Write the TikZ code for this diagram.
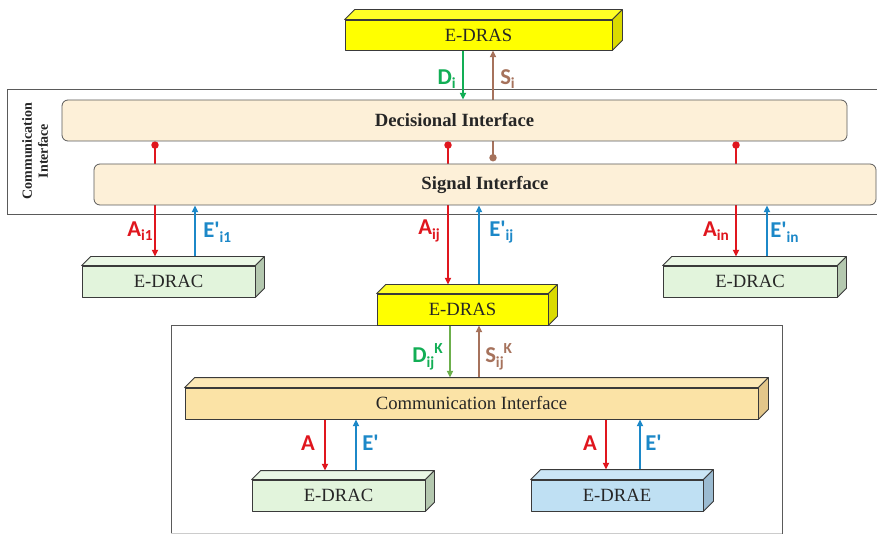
\documentclass[tikz,border=0pt]{standalone}
\usepackage{fontspec}
\setmainfont{Liberation Serif}
\newfontfamily\labfont[Ligatures=TeXOff]{Carlito}
\usetikzlibrary{arrows.meta,calc}

\definecolor{edge}{HTML}{3A3A3A}
\definecolor{frame}{HTML}{5A5A5A}
\definecolor{ifill}{HTML}{FDF0D8}
\definecolor{yfront}{HTML}{FFFF00}
\definecolor{ytop}{HTML}{FFFF26}
\definecolor{yside}{HTML}{DADA00}
\definecolor{gfront}{HTML}{E2F4DC}
\definecolor{gtop}{HTML}{EAF7E5}
\definecolor{gside}{HTML}{B4C8AF}
\definecolor{bfront}{HTML}{BFE0F3}
\definecolor{btop}{HTML}{CBE6F6}
\definecolor{bside}{HTML}{9BBBD1}
\definecolor{ofront}{HTML}{FBE3A6}
\definecolor{otop}{HTML}{FCE8B6}
\definecolor{oside}{HTML}{E3C68A}
\definecolor{cred}{HTML}{E0161E}
\definecolor{cblue}{HTML}{1C88C8}
\definecolor{cgreen}{HTML}{12AE55}
\definecolor{cgreenb}{HTML}{6CAF4C}
\definecolor{cbrown}{HTML}{A6725C}

\pgfdeclarelayer{canvas}
\pgfdeclarelayer{back}
\pgfsetlayers{canvas,back,main}

\def\px{0.75pt}

% side and top faces of a box node: node, depth (px), top colour, side colour
\newcommand\boxfaces[4]{%
  \filldraw[facestroke, fill=#3] (#1.north west) -- ++(#2,-#2)
     -- ($(#1.north east)+(#2,-#2)$) -- (#1.north east) -- cycle;
  \filldraw[facestroke, fill=#4] (#1.north east) -- ++(#2,-#2)
     -- ($(#1.south east)+(#2,-#2)$) -- (#1.south east) -- cycle;
  \coordinate (#1top) at ($(#1.north)+(0,-#2)$);
}

% signal label: main letter, subscript, superscript
\newcommand\sig[3]{{\labfont\bfseries\fontsize{17}{17}\selectfont
  #1\raisebox{-0.42ex}{\fontsize{11.5}{11.5}\selectfont #2}%
  \raisebox{0.8ex}{\fontsize{11.5}{11.5}\selectfont #3}}}

\tikzset{
  facestroke/.style={draw=edge, line width=0.6pt, line join=round},
  cube/.style={facestroke, inner sep=0pt, font=\fontsize{14}{14}\selectfont,
    text=black!85, minimum height=31*\px},
  iface/.style={draw=frame, line width=0.6pt, fill=ifill, rounded corners=4.5pt,
    inner sep=0pt, minimum height=41*\px,
    font=\bfseries\fontsize{14}{14}\selectfont, text=black!85},
  outer/.style={draw=frame, line width=0.6pt},
  tipT/.style={-{Triangle[length=5pt,width=4.5pt]}},
  redc/.style={draw=cred, line width=1.4pt, {Circle[length=5.5pt]}-{Triangle[length=5pt,width=4.5pt]}},
  redp/.style={draw=cred, line width=1.4pt, tipT},
  bluec/.style={draw=cblue, line width=1.4pt, tipT},
  greenc/.style={draw=cgreen, line width=1.3pt, tipT},
  greenl/.style={draw=cgreenb, line width=1.3pt, tipT},
  brownc/.style={draw=cbrown, line width=1.3pt, tipT},
  lab/.style={inner sep=0pt},
}

\begin{document}
\begin{tikzpicture}[x=0.75pt,y=-0.75pt]
\begin{pgfonlayer}{canvas}
  \fill[white] (0,0) rectangle (877,534);
\end{pgfonlayer}
\useasboundingbox (0,0) rectangle (877,534);

% x positions of the vertical connectors
\coordinate (xAL) at (155,0);  \coordinate (xEL) at (195,0);
\coordinate (xAM) at (448,0);  \coordinate (xEM) at (479,0);
\coordinate (xBM) at (493,0);
\coordinate (xAR) at (736,0);  \coordinate (xER) at (767,0);
\coordinate (xDt) at (463,0);  \coordinate (xSt) at (493,0);
\coordinate (xDl) at (450,0);  \coordinate (xSl) at (479,0);
\coordinate (xa1) at (325,0);  \coordinate (xe1) at (356,0);
\coordinate (xa2) at (606,0);  \coordinate (xe2) at (640,0);

% enclosing frames
\begin{pgfonlayer}{back}
  \draw[outer] (7,89) rectangle (882,214);
  \draw[outer] (171,540) -- (171,325) -- (782,325) -- (782,540);
  \draw[black!20, line width=0.6pt] (171,533.5) -- (782,533.5);
\end{pgfonlayer}

\node[rotate=90, align=center, font=\bfseries\fontsize{10.5}{12}\selectfont, text=black!85]
  (citext) at (35,151) {Communication\\Interface};

% interface bars
\node[iface, minimum width=785*\px] (dec) at (454.5,120.5) {Decisional Interface};
\node[iface, minimum width=782*\px] (sig) at (485,184.5) {Signal Interface};

% boxes
\node[cube, fill=yfront, minimum width=267*\px, minimum height=30*\px] (dras1) at (478.5,35) {E-DRAS};
\boxfaces{dras1}{10}{ytop}{yside}

\node[cube, fill=gfront, minimum width=173*\px] (drac1) at (168.5,281.5) {E-DRAC};
\boxfaces{drac1}{9}{gtop}{gside}

\node[cube, fill=gfront, minimum width=174*\px] (drac2) at (750,281.5) {E-DRAC};
\boxfaces{drac2}{9}{gtop}{gside}

\node[cube, fill=yfront, minimum width=171*\px] (dras2) at (462.5,309.5) {E-DRAS};
\boxfaces{dras2}{9}{ytop}{yside}

\node[cube, fill=ofront, minimum width=573*\px] (com) at (471.5,403.5) {Communication Interface};
\boxfaces{com}{10}{otop}{oside}

\node[cube, fill=gfront, minimum width=173*\px] (drac3) at (338.5,495.5) {E-DRAC};
\boxfaces{drac3}{9}{gtop}{gside}

\node[cube, fill=bfront, minimum width=172*\px] (drae) at (617,495.5) {E-DRAE};
\boxfaces{drae}{10}{btop}{bside}

% connectors
\begin{pgfonlayer}{back}
  \draw[greenc] (dras1.south -| xDt) -- (dec.north -| xDt);
  \draw[brownc] (dec.north -| xSt) -- (dras1.south -| xSt);

  \draw[redc]  (dec.south -| xAL) -- (drac1top -| xAL);
  \draw[bluec] (drac1top -| xEL) -- (sig.south -| xEL);

  \draw[redc]  (dec.south -| xAM) -- (dras2top -| xAM);
  \draw[bluec] (dras2top -| xEM) -- (sig.south -| xEM);
  \draw[draw=cbrown, line width=1.3pt, -{Circle[length=5.5pt]}] (dec.south -| xBM) -- ++(0,20);

  \draw[redc]  (dec.south -| xAR) -- (drac2top -| xAR);
  \draw[bluec] (drac2top -| xER) -- (sig.south -| xER);

  \draw[greenl] (dras2.south -| xDl) -- (comtop -| xDl);
  \draw[brownc] (comtop -| xSl) -- (dras2.south -| xSl);

  \draw[redp]  (com.south -| xa1) -- (drac3top -| xa1);
  \draw[bluec] (drac3top -| xe1) -- (com.south -| xe1);
  \draw[redp]  (com.south -| xa2) -- (draetop -| xa2);
  \draw[bluec] (draetop -| xe2) -- (com.south -| xe2);
\end{pgfonlayer}

% signal labels
\node[lab, anchor=east, text=cgreen] (lDi) at (456,79) {\sig{D}{i}{}};
\node[lab, anchor=west, text=cbrown] (lSi) at (500,79) {\sig{S}{i}{}};

\node[lab, anchor=east, text=cred]  (lAi1) at (153,231) {\sig{A}{i1}{}};
\node[lab, anchor=west, text=cblue] (lEi1) at (203,232) {\sig{E'}{i1}{}};
\node[lab, anchor=east, text=cred]  (lAij) at (440,231) {\sig{A}{ij}{}};
\node[lab, anchor=west, text=cblue] (lEij) at (489,232) {\sig{E'}{ij}{}};
\node[lab, anchor=east, text=cred]  (lAin) at (729,231) {\sig{A}{in}{}};
\node[lab, anchor=west, text=cblue] (lEin) at (770,232) {\sig{E'}{in}{}};

\node[lab, anchor=east, text=cgreen] (lDk) at (443,357) {\sig{D}{ij}{K}};
\node[lab, anchor=west, text=cbrown] (lSk) at (485,357) {\sig{S}{ij}{K}};

\node[lab, anchor=east, text=cred]  (la1) at (315,445) {\sig{A}{}{}};
\node[lab, anchor=west, text=cblue] (le1) at (362,445) {\sig{E'}{}{}};
\node[lab, anchor=east, text=cred]  (la2) at (597,445) {\sig{A}{}{}};
\node[lab, anchor=west, text=cblue] (le2) at (645,445) {\sig{E'}{}{}};
\end{tikzpicture}
\end{document}
